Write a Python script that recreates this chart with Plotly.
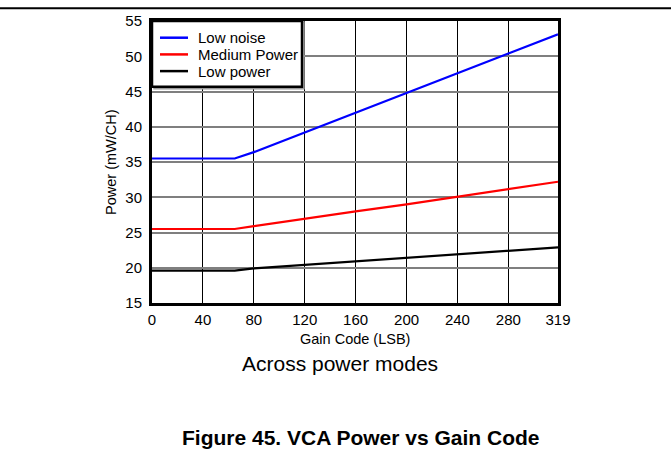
import plotly.graph_objects as go

# Gain code (LSB) sample points
gain_code = [0, 40, 65, 80, 120, 160, 200, 240, 280, 319]

# Power per channel (mW/CH) for each power mode
low_noise = [35.5, 35.5, 35.5, 36.4, 39.2, 42.0, 44.9, 47.7, 50.4, 53.1]
medium_power = [25.5, 25.5, 25.5, 25.9, 27.0, 28.0, 29.0, 30.1, 31.1, 32.2]
low_power = [19.6, 19.6, 19.6, 19.9, 20.4, 20.9, 21.4, 21.9, 22.4, 22.9]

series_names = ["Low noise", "Medium Power", "Low power"]
series_colors = ["#0000ff", "#ff0000", "#000000"]

x_ticks = [0, 40, 80, 120, 160, 200, 240, 280, 319]
y_ticks = [15, 20, 25, 30, 35, 40, 45, 50, 55]

FONT = "Liberation Sans, Arial, sans-serif"

W, H = 671, 459
L, R, T, B = 152, 113, 16, 156
pw, ph = W - L - R, H - T - B


def px_x(px):
    """Pixel column -> paper x."""
    return (px - L) / pw


def px_y(py):
    """Pixel row -> paper y."""
    return 1 - (py - T) / ph


fig = go.Figure()
for name, vals, color in zip(series_names, [low_noise, medium_power, low_power], series_colors):
    fig.add_trace(go.Scatter(x=gain_code, y=vals, mode="lines", name=name,
                             line=dict(color=color, width=2.2), showlegend=False))

fig.update_layout(
    width=W, height=H,
    margin=dict(l=L, r=R, t=T, b=B, pad=0),
    paper_bgcolor="white", plot_bgcolor="white",
    font=dict(family=FONT, size=15, color="black"),
    xaxis=dict(range=[0, 319], tickvals=x_ticks, ticktext=[str(v) for v in x_ticks],
               showgrid=True, gridcolor="black", gridwidth=1,
               showline=True, linecolor="black", linewidth=3, mirror=True,
               ticks="", zeroline=False, tickfont=dict(size=15),
               ticklabelstandoff=1),
    yaxis=dict(range=[15, 55], tickvals=y_ticks,
               showgrid=True, gridcolor="#7f7f7f", gridwidth=2,
               showline=True, linecolor="black", linewidth=3, mirror=True,
               ticks="", zeroline=False, tickfont=dict(size=15),
               ticklabelstandoff=4),
)

# Axis titles
fig.add_annotation(text="Gain Code (LSB)", xref="paper", yref="paper",
                   x=px_x(355), y=px_y(339.5), xanchor="center", yanchor="middle",
                   showarrow=False, font=dict(size=14.5, family=FONT))
fig.add_annotation(text="Power (mW/CH)", xref="paper", yref="paper",
                   x=px_x(111), y=px_y(159.5), xanchor="center", yanchor="middle",
                   textangle=-90, showarrow=False, font=dict(size=14.5, family=FONT))

# Legend box drawn inside the plot's upper-left corner
fig.add_shape(type="rect", xref="paper", yref="paper", layer="above",
              x0=px_x(154), x1=px_x(304), y0=px_y(85), y1=px_y(17),
              line=dict(color="#9a9a9a", width=1.5), fillcolor="white")
fig.add_shape(type="rect", xref="paper", yref="paper", layer="above",
              x0=px_x(152), x1=px_x(302), y0=px_y(83), y1=px_y(16),
              line=dict(color="black", width=2.5), fillcolor="white")
for i, (name, color) in enumerate(zip(series_names, series_colors)):
    yy = px_y(33 + 17 * i)
    fig.add_shape(type="line", xref="paper", yref="paper", layer="above",
                  x0=px_x(160), x1=px_x(188), y0=yy, y1=yy,
                  line=dict(color=color, width=2.5))
    fig.add_annotation(text=name, xref="paper", yref="paper",
                       x=px_x(196), y=yy, xanchor="left", yanchor="middle",
                       showarrow=False, font=dict(size=15, family=FONT))

# Rule across the top of the page
fig.add_shape(type="line", xref="paper", yref="paper",
              x0=px_x(0), x1=px_x(W), y0=px_y(3), y1=px_y(3),
              line=dict(color="black", width=2))

fig.add_annotation(text="Across power modes", xref="paper", yref="paper",
                   x=px_x(340), y=px_y(365), xanchor="center", yanchor="middle",
                   showarrow=False, font=dict(size=21, family=FONT))
fig.add_annotation(text="<b>Figure 45. VCA Power vs Gain Code</b>", xref="paper", yref="paper",
                   x=px_x(360), y=px_y(440), xanchor="center", yanchor="middle",
                   showarrow=False, font=dict(size=21, family=FONT))

fig.write_html("out.html")
